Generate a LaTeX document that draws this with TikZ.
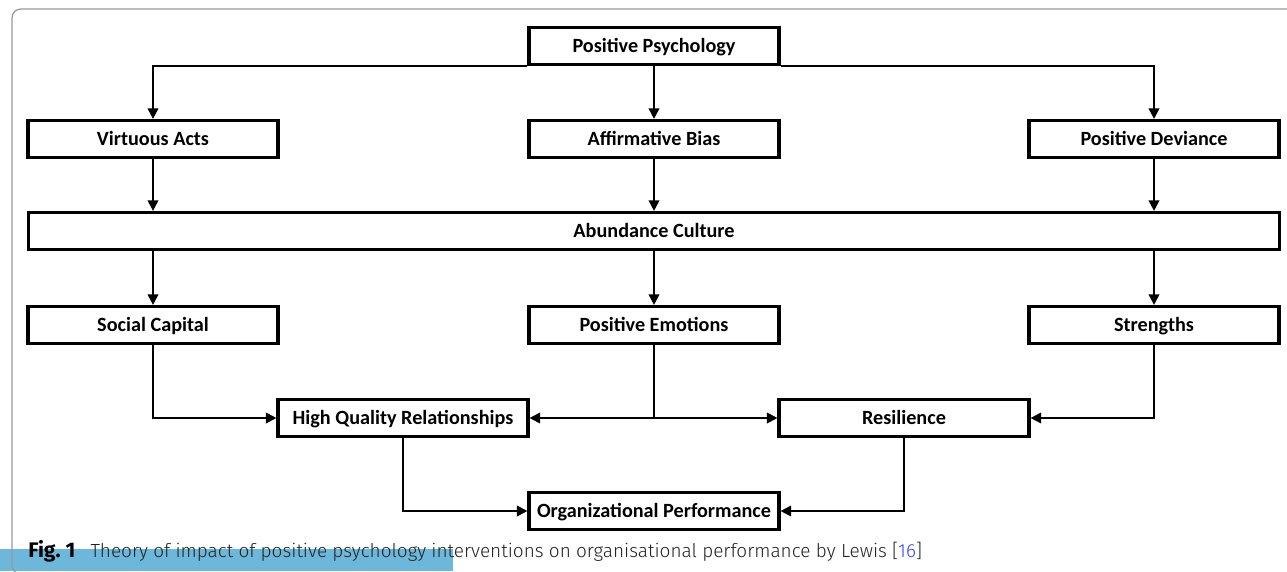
\documentclass[tikz,border=0pt]{standalone}
\usepackage{fontspec}
\setmainfont{Carlito}
\newfontfamily\capfont{Fira Sans Light}[BoldFont={Fira Sans Bold}]
\usetikzlibrary{arrows.meta}

\definecolor{barblue}{HTML}{6DB8DA}
\definecolor{refblue}{HTML}{3344DD}
\definecolor{capgray}{HTML}{222222}

\begin{document}
\begin{tikzpicture}[x=0.02cm,y=-0.02cm,
    box/.style={draw,line width=1.8pt,minimum width=5cm,minimum height=0.74cm,
        inner sep=0pt,text height=1.75ex,text depth=0.3ex,
        font=\bfseries\fontsize{11.5}{13}\selectfont},
    arr/.style={line width=1.1pt,-{Triangle[length=6pt,width=6pt]}}]
        \useasboundingbox (0,0) rectangle (1287,571);

        % frame and caption bar
        \begin{scope}
        \clip (0,0) rectangle (1287,571);
        \fill[barblue] (0,549) rectangle (453,571);
        \draw[gray!80,line width=0.7pt,rounded corners=5pt] (12,9) rectangle (1320,574);
        \end{scope}

        \node[box] (pp) at (654,46) {Positive Psychology};
        \node[box] (va) at (153,139) {Virtuous Acts};
        \node[box] (ab) at (654,139) {Affirmative Bias};
        \node[box] (pd) at (1154,139) {Positive Deviance};
        \node[box,minimum width=25.02cm] (ac) at (654,231) {Abundance Culture};
        \node[box] (sc) at (153,325) {Social Capital};
        \node[box] (pe) at (654,325) {Positive Emotions};
        \node[box] (st) at (1154,325) {Strengths};
        \node[box] (hq) at (403,418) {High Quality Relationships};
        \node[box] (rs) at (904,418) {Resilience};
        \node[box] (op) at (654,511) {Organizational Performance};

        \draw[arr] (pp.south) -- (ab.north);
        \draw[arr] (pp.south west) -| (va.north);
        \draw[arr] (pp.south east) -| (pd.north);

        \draw[arr] (va.south) -- (va.south |- ac.north);
        \draw[arr] (ab.south) -- (ac.north);
        \draw[arr] (pd.south) -- (pd.south |- ac.north);

        \draw[arr] (ac.south -| sc.north) -- (sc.north);
        \draw[arr] (ac.south) -- (pe.north);
        \draw[arr] (ac.south -| st.north) -- (st.north);

        \draw[arr] (sc.south) |- (hq.west);
        \draw[arr] (pe.south) |- (hq.east);
        \draw[arr] (pe.south) |- (rs.west);
        \draw[arr] (st.south) |- (rs.east);

        \draw[arr] (hq.south) |- (op.west);
        \draw[arr] (rs.south) |- (op.east);

        \node[anchor=base west,inner sep=0pt,text=capgray,font=\capfont\fontsize{10.8}{13}\selectfont] (cap) at (28,557)
            {\textbf{\color{black}\fontsize{12}{13}\selectfont Fig.~1}\hspace{0.8em}Theory of impact of positive psychology interventions on organisational performance by Lewis [{\color{refblue}16}]};
    \end{tikzpicture}
\end{document}
